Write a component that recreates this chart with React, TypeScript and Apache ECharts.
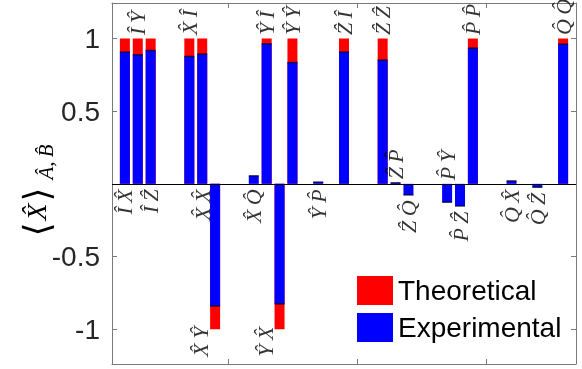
import React, { useEffect, useRef } from "react";
import * as echarts from "echarts";

const categories = ["IX","IY","IZ","IP","IQ","XI","XX","XY","XZ","XP","XQ","YI","YX","YY","YZ","YP","YQ","ZI","ZX","ZY","ZZ","ZP","ZQ","PI","PX","PY","PZ","PP","PQ","QI","QX","QY","QZ","QP","QQ"];
const theoretical = [1,1,1,0,0,1,1,-1,0,0,0,1,-1,1,0,0,0,1,0,0,1,0,0,0,0,0,0,1,0,0,0,0,0,0,1];
const experimental = [0.907,0.888,0.918,0,0,0.877,0.893,-0.84,0,0,0.055,0.964,-0.826,0.835,0,0.012,0,0.907,0,0,0.852,0.007,-0.076,0,0,-0.126,-0.152,0.934,0,0,0.02,0,-0.023,0,0.962];
const labelSide = ["down","up","down","","","up","down","down","","","down","up","down","up","","down","","up","","","up","up","down","","","up","down","up","","","down","","down","","up"];
const yTickLabels = [-1, -0.5, 0.5, 1];
const xTicks = [9, 19, 29];

const hat = (s: string) => s.split("").map((c) => c + "\u0302").join("\u2009");

export default function App() {
  const ref = useRef<HTMLDivElement>(null);
  useEffect(() => {
    if (!ref.current) return;
    const chart = echarts.init(ref.current, null, { renderer: "svg" });
    const pos = categories.map((_, i) => i + 1);
    const axisColor = "#7a7a7a";
    const labelData: any[] = [];
    categories.forEach((c, i) => {
      const side = labelSide[i];
      if (!side) return;
      const up = side === "up";
      const anchor = up
        ? Math.max(0, theoretical[i], experimental[i])
        : Math.min(0, theoretical[i], experimental[i]);
      const shiftLeft = !up && theoretical[i] < 0;
      labelData.push({
        value: [pos[i], anchor],
        label: {
          show: true,
          formatter: hat(c),
          position: shiftLeft ? [-14, -2] : up ? "top" : "bottom",
          distance: up ? 3 : 5,
          rotate: 90,
          align: up ? "left" : "right",
          verticalAlign: "middle",
        },
      });
    });
    const edgeData = experimental
      .map((v, i) => [pos[i], v])
      .filter((d) => d[1] !== 0);

    const yAxisBase = {
      type: "value",
      min: -1.24,
      max: 1.245,
      splitLine: { show: false },
      axisLine: { show: true, onZero: false, lineStyle: { color: axisColor, width: 1 } },
      axisTick: { show: true, inside: true, length: 5, customValues: [-1, -0.5, 0, 0.5, 1], lineStyle: { color: axisColor } },
    };
    const xAxisBase = {
      type: "value",
      min: 0,
      max: 36,
      splitLine: { show: false },
      axisLabel: { show: false },
      axisLine: { show: true, onZero: false, lineStyle: { color: axisColor, width: 1 } },
      axisTick: { show: true, inside: true, length: 5, customValues: xTicks, lineStyle: { color: axisColor } },
    };

    chart.setOption({
      animation: false,
      grid: { left: 112, right: 6, top: 3, bottom: 5 },
      xAxis: [
        { ...xAxisBase, position: "bottom" },
        { ...xAxisBase, position: "top" },
      ],
      yAxis: [
        {
          ...yAxisBase,
          position: "left",
          axisLabel: {
            show: true,
            customValues: yTickLabels,
            formatter: (v: number) => String(v),
            fontFamily: "Liberation Sans",
            fontSize: 28,
            color: "#262626",
            margin: 12,
          },
        },
        { ...yAxisBase, position: "right", axisLabel: { show: false } },
      ],
      legend: {
        orient: "vertical",
        left: 352,
        top: 271,
        itemWidth: 36,
        itemHeight: 29,
        itemGap: 8,
        icon: "rect",
        data: ["Theoretical", "Experimental"],
        textStyle: { fontFamily: "Liberation Sans", fontSize: 28, color: "#000" },
      },
      graphic: [
        {
          type: "text",
          x: 36,
          y: 212,
          rotation: Math.PI / 2,
          style: {
            text: "{b|\u27E8}{x|X\u0302}{b|\u27E9}",
            align: "center",
            verticalAlign: "middle",
            rich: {
              b: { fontFamily: "DejaVu Serif", fontSize: 36, fill: "#000", verticalAlign: "middle" },
              x: { fontFamily: "Liberation Serif", fontStyle: "italic", fontSize: 28, fill: "#000", verticalAlign: "middle", padding: [0, 2, 0, 2] },
            },
          },
        },
        {
          type: "text",
          x: 46,
          y: 162,
          rotation: Math.PI / 2,
          style: {
            text: "A\u0302,\u2009B\u0302",
            fontFamily: "Liberation Serif",
            fontStyle: "italic",
            fontSize: 21,
            fill: "#000",
            align: "center",
            verticalAlign: "middle",
          },
        },
      ],
      series: [
        {
          name: "Theoretical",
          type: "bar",
          data: pos.map((p, i) => [p, theoretical[i]]),
          barWidth: 10,
          barGap: "-100%",
          itemStyle: { color: "#ff0000" },
          markLine: {
            silent: true,
            symbol: "none",
            label: { show: false },
            lineStyle: { color: "#000", width: 1, type: "solid" },
            data: [{ yAxis: 0 }],
          },
        },
        {
          name: "Experimental",
          type: "bar",
          data: pos.map((p, i) => [p, experimental[i]]),
          barWidth: 10,
          barGap: "-100%",
          itemStyle: { color: "#0000ff" },
        },
        {
          name: "edge",
          type: "scatter",
          symbol: "rect",
          symbolSize: [10, 1.5],
          itemStyle: { color: "#000030" },
          data: edgeData,
          silent: true,
          z: 3,
        },
        {
          name: "labels",
          type: "scatter",
          symbolSize: 1,
          itemStyle: { color: "rgba(0,0,0,0)" },
          data: labelData,
          silent: true,
          labelLayout: { hideOverlap: false },
          label: {
            fontFamily: "Liberation Serif",
            fontStyle: "italic",
            fontSize: 22,
            color: "#000",
          },
        },
      ],
    });
    return () => chart.dispose();
  }, []);
  return <div ref={ref} style={{ position: "fixed", left: 0, top: 0, width: 582, height: 369 }} />;
}
